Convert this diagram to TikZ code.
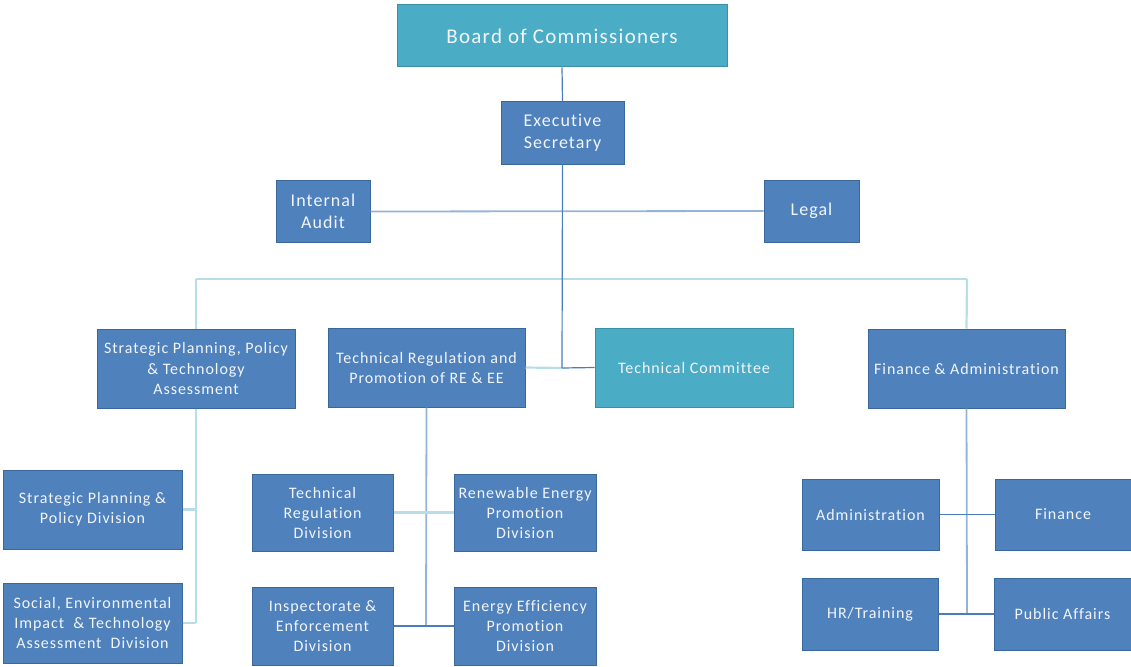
\documentclass[tikz,border=0pt]{standalone}
\usepackage{fontspec}
\setmainfont{Carlito}[LetterSpace=6, Ligatures=CommonOff]
\definecolor{boxblue}{HTML}{4F81BD}
\definecolor{boxedge}{HTML}{3A679C}
\definecolor{teal}{HTML}{4BACC6}
\definecolor{tealedge}{HTML}{3A8FA6}
\definecolor{linedark}{HTML}{4A7EBB}
\definecolor{linemid}{HTML}{95B3D7}
\definecolor{linelight}{HTML}{B7DEE8}
\definecolor{textwhite}{HTML}{F2F5FA}
\begin{document}
\begin{tikzpicture}[x=1pt,y=-1pt,
  unit/.style={draw=boxedge, line width=1pt, fill=boxblue, text=textwhite,
    align=center, inner sep=2pt, font=\fontsize{16}{20}\selectfont},
  bigunit/.style={unit, font=\fontsize{18}{22}\selectfont},
  tealunit/.style={unit, draw=tealedge, fill=teal},
  dark/.style={draw=linedark, line width=1.2pt},
  mid/.style={draw=linemid, line width=1.8pt},
  light/.style={draw=linelight, line width=2.2pt}]
\useasboundingbox (0,0) rectangle (1131,666);

% top of the hierarchy
\node[tealunit, minimum width=330, minimum height=62,
  font=\fontsize{21}{25}\selectfont] (board) at (562,36) {Board of Commissioners};
\node[bigunit, minimum width=123, minimum height=62] (exec) at (562.5,133) {Executive\\Secretary};
\node[bigunit, minimum width=94, minimum height=62] (audit) at (323,211.5) {Internal\\Audit};
\node[bigunit, minimum width=95, minimum height=62] (legal) at (811.5,211) {Legal};

% departments
\node[unit, minimum width=198, minimum height=79] (spt) at (196,368.5) {Strategic Planning, Policy\\\& Technology\\Assessment};
\node[unit, minimum width=197, minimum height=79] (trp) at (426.5,367.5) {Technical Regulation and\\Promotion of RE \& EE};
\node[tealunit, minimum width=198, minimum height=79] (tc) at (694,367.5) {Technical Committee};
\node[unit, minimum width=197, minimum height=79] (fa) at (966.5,368.5) {Finance \& Administration};

% divisions under strategic planning
\node[unit, minimum width=179, minimum height=79] (sppd) at (92.5,509.5) {Strategic Planning \&\\Policy Division};
\node[unit, minimum width=179, minimum height=80] (seit) at (92.5,623) {Social, Environmental\\Impact \ \& Technology\\Assessment \ Division};

% divisions under technical regulation
\node[unit, minimum width=141, minimum height=77] (trd) at (322.5,512.5) {Technical\\Regulation\\Division};
\node[unit, minimum width=142, minimum height=77] (repd) at (525,512.5) {Renewable Energy\\Promotion\\Division};
\node[unit, minimum width=141, minimum height=78] (ied) at (322.5,626) {Inspectorate \&\\Enforcement\\Division};
\node[unit, minimum width=142, minimum height=78] (eepd) at (525,626) {Energy Efficiency\\Promotion\\Division};

% units under finance and administration
\node[unit, minimum width=137, minimum height=71] (adm) at (870.5,514.5) {Administration};
\node[unit, minimum width=136, minimum height=71] (fin) at (1063,514.5) {Finance};
\node[unit, minimum width=136, minimum height=72] (hr) at (870,614) {HR/Training};
\node[unit, minimum width=137, minimum height=72] (pa) at (1062.5,614) {Public Affairs};

% junction points
\coordinate (tcj) at (562,368);
\coordinate (rowL) at (196,279);
\coordinate (rowR) at (967,279);
\coordinate (spj) at (196,623);
\coordinate (trj) at (426,626);
\coordinate (faj) at (967,613);

% connectors
\draw[mid] (audit.east) -- (legal.west);
\draw[light] (rowL) -- (rowR);
\draw[light] (rowL) -- (spt.north);
\draw[light] (rowR) -- (fa.north);
\draw[light] (trp.east) -- (tcj);
\draw[dark] (tcj) -- (tc.west);
\draw[dark] (board.south) -- (exec.north);
\draw[dark] (exec.south) -- (tcj);

\draw[light] (spt.south) -- (spj);
\draw[light] (sppd.east) -- (sppd.east -| spj);
\draw[light] (seit.east) -- (spj);

\draw[mid] (trp.south) -- (trj);
\draw[light] (trd.east) -- (repd.west);
\draw[dark] (ied.east) -- (eepd.west);

\draw[mid] (fa.south) -- (faj);
\draw[dark] (adm.east) -- (fin.west);
\draw[dark] (hr.east) -- (pa.west);
\end{tikzpicture}
\end{document}
